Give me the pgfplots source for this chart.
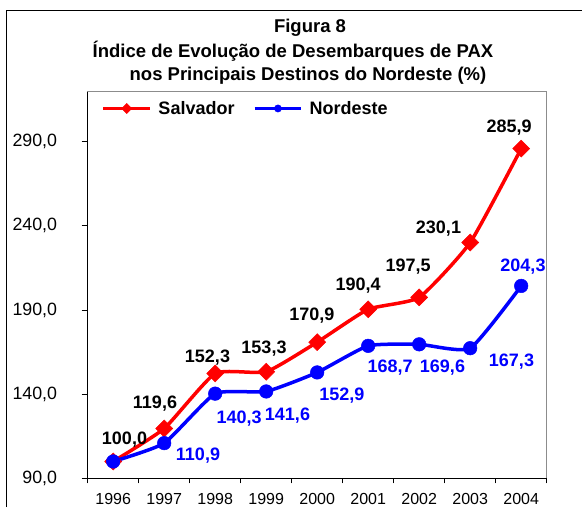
\documentclass[border=0pt]{standalone}
\usepackage{pgfplots}
\pgfplotsset{compat=1.18}
\usepackage{fontspec}
\setmainfont{Liberation Sans}
\newcommand{\tfont}{\fontsize{18.5}{20}\selectfont\bfseries}
\newcommand{\lfont}{\fontsize{18}{20}\selectfont\bfseries}
\begin{document}
\begin{tikzpicture}[x=1pt,y=1pt]
\path[use as bounding box] (0,0) rectangle (582,-507);
\draw[line width=1.3pt] (6.7,-507) -- (6.7,-10.7) -- (582,-10.7);
\node[anchor=base, font=\tfont] at (310,-32.3) {Figura 8};
\node[anchor=base, font=\tfont] at (293,-57.3) {Índice de Evolução de Desembarques de PAX};
\node[anchor=base, font=\tfont] at (308,-80.7) {nos Principais Destinos do Nordeste (\%)};
\begin{axis}[
  at={(87.7pt,-478.3pt)}, anchor=south west,
  scale only axis, width=459pt, height=386.6pt,
  xmin=-0.5, xmax=8.5, ymin=90, ymax=319.7,
  axis line style={black!45, line width=1.3pt},
  xtick={0,...,8},
  xticklabels={1996,1997,1998,1999,2000,2001,2002,2003,2004},
  minor xtick={-0.5,0.5,...,8.5},
  ytick={90,140,190,240,290},
  xtick pos=bottom, ytick pos=left,
  tick align=outside,
  major tick length=6pt, minor tick length=5pt,
  major x tick style={draw=none},
  every tick/.style={black, line width=1pt},
  minor tick style={black, line width=1pt},
  major tick style={black, line width=1pt},
  yticklabel style={font=\fontsize{17.8}{18}\selectfont, anchor=east, inner sep=0pt, xshift=-24.4pt},
  xticklabel style={font=\fontsize{16}{18}\selectfont, anchor=base, inner sep=0pt, text depth=0pt, yshift=-19.8pt},
  y tick label style={/pgf/number format/.cd, fixed, fixed zerofill, precision=1, use comma, assume math mode=true},
  legend style={draw=none, fill=none, inner sep=0pt, outer sep=0pt,
    at={(axis description cs:0.0305,0.9566)}, anchor=west,
    font=\lfont, nodes={inner sep=0pt},
    /tikz/every odd column/.style={column sep=6.7pt},
    /tikz/every even column/.style={column sep=18.4pt}},
  legend columns=2,
  legend image code/.code={\draw[mark repeat=2, mark phase=2, #1, mark size=3.6pt] plot coordinates {(0pt,0pt) (23.3pt,0pt) (46.6pt,0pt)};},
  clip=false,
]
\addplot[color=red, line width=3.5pt, smooth, tension=0.3, mark=square*, mark size=6pt,
  mark options={rotate=45, solid, fill=red, draw=red, line width=0.5pt}]
  coordinates {(0,100.0) (1,119.6) (2,152.3) (3,153.3) (4,170.9) (5,190.4) (6,197.5) (7,230.1) (8,285.9)};
\addlegendentry{Salvador}
\addplot[color=blue, line width=3.5pt, smooth, tension=0.3, mark=*, mark size=6.8pt,
  mark options={solid, fill=blue, draw=blue, line width=0.5pt}]
  coordinates {(0,100.0) (1,110.9) (2,140.3) (3,141.6) (4,152.9) (5,168.7) (6,169.6) (7,167.3) (8,204.3)};
\addlegendentry{Nordeste}
\draw[black, line width=1.3pt] (rel axis cs:0,1) -- (rel axis cs:0,0) -- (rel axis cs:1,0);
% Salvador labels
\begin{scope}[every node/.style={anchor=base, font=\lfont, text=black, inner sep=0pt}]
\node[xshift=11.3pt, yshift=16.5pt] at (axis cs:0,100.0) {100,0};
\node[xshift=-9.2pt, yshift=20.2pt] at (axis cs:1,119.6) {119,6};
\node[xshift=-7.7pt, yshift=10.8pt] at (axis cs:2,152.3) {152,3};
\node[xshift=-2.2pt, yshift=18.5pt] at (axis cs:3,153.3) {153,3};
\node[xshift=-5.4pt, yshift=22.1pt] at (axis cs:4,170.9) {170,9};
\node[xshift=-10pt, yshift=18.6pt] at (axis cs:5,190.4) {190,4};
\node[xshift=-11pt, yshift=26.3pt] at (axis cs:6,197.5) {197,5};
\node[xshift=-31.7pt, yshift=9.5pt] at (axis cs:7,230.1) {230,1};
\node[xshift=-12pt, yshift=15.6pt] at (axis cs:8,285.9) {285,9};
\end{scope}
\begin{scope}[every node/.style={anchor=base, font=\lfont, text=blue, inner sep=0pt}]
\node[xshift=33.8pt, yshift=-16.9pt] at (axis cs:1,110.9) {110,9};
\node[xshift=24pt, yshift=-29.7pt] at (axis cs:2,140.3) {140,3};
\node[xshift=21.3pt, yshift=-29.5pt] at (axis cs:3,141.6) {141,6};
\node[xshift=24.6pt, yshift=-28.3pt] at (axis cs:4,152.9) {152,9};
\node[xshift=22pt, yshift=-26.5pt] at (axis cs:5,168.7) {168,7};
\node[xshift=23.3pt, yshift=-28pt] at (axis cs:6,169.6) {169,6};
\node[xshift=41.3pt, yshift=-18.5pt] at (axis cs:7,167.3) {167,3};
\node[xshift=1.8pt, yshift=14.9pt] at (axis cs:8,204.3) {204,3};
\end{scope}
\end{axis}
\end{tikzpicture}
\end{document}
